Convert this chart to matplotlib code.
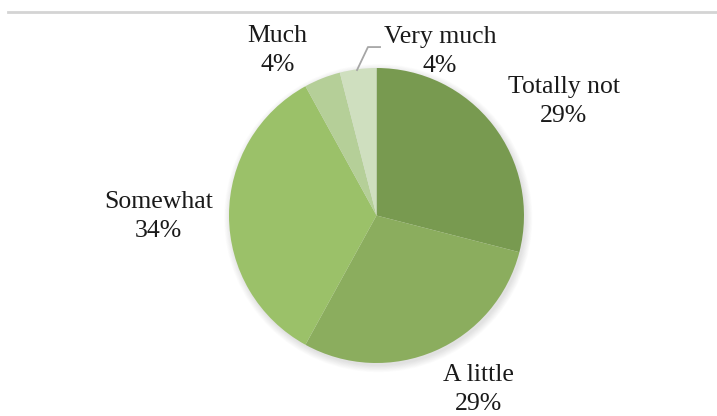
import matplotlib.pyplot as plt
from matplotlib.lines import Line2D
from matplotlib.patches import Circle

# ---------------------------------------------------------
# Survey answers (share of respondents, %)
# ---------------------------------------------------------
categories = ["Totally not", "A little", "Somewhat", "Much", "Very much"]
values = [29, 29, 34, 4, 4]
colors = ["#789a50", "#8bad5e", "#9bc169", "#b5cf98", "#cfdfbf"]

# label anchor points around the pie (pie radius = 1)
label_pos = [(1.27, 0.77), (0.69, -1.18), (-1.48, -0.005), (-0.67, 1.12), (0.43, 1.11)]

plt.rcParams["font.family"] = ["Liberation Serif", "DejaVu Serif"]

fig = plt.figure(figsize=(7.17, 4.16), dpi=100)
ax = fig.add_axes([0, 0, 1, 1])

# soft shadow behind the pie
for k in range(10):
    ax.add_patch(Circle((0.012, -0.018), 1.0 + 0.005 * k, color="#000000",
                        alpha=0.012, lw=0, zorder=0))

wedges, _ = ax.pie(
    values,
    colors=colors,
    startangle=90,
    counterclock=False,
    radius=1.0,
    wedgeprops=dict(linewidth=0),
)
for w in wedges:
    w.set_zorder(2)

for name, val, (x, y) in zip(categories, values, label_pos):
    ax.text(x, y, f"{name}\n{val}%", ha="center", va="center",
            fontsize=18.5, color="#1a1a1a", linespacing=1.42, zorder=3)

# leader line for the small "Very much" slice
ax.plot([-0.132, -0.058, 0.024], [0.986, 1.142, 1.142], color="#a6a6a6",
        lw=1.3, zorder=3)

ax.set_xlim(-2.5525, 2.3085)
ax.set_ylim(-1.3593, 1.4610)
ax.set_aspect("auto")
ax.axis("off")

# thin gray rule across the top
fig.add_artist(Line2D([8 / 717, 1.0], [1 - 12 / 416, 1 - 12 / 416],
                      transform=fig.transFigure, color="#d4d4d4", lw=2))

fig.savefig("out.png", dpi=100)
